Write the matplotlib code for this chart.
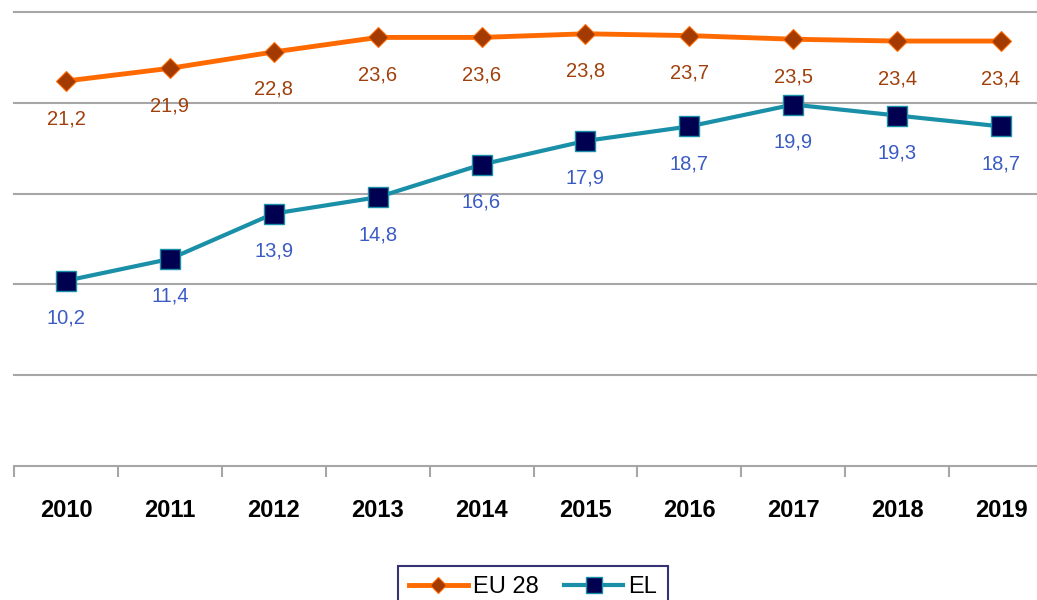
import numpy as np
import matplotlib
matplotlib.use("Agg")
import matplotlib.pyplot as plt

years = ["2010", "2011", "2012", "2013", "2014", "2015", "2016", "2017", "2018", "2019"]
eu28 = [21.2, 21.9, 22.8, 23.6, 23.6, 23.8, 23.7, 23.5, 23.4, 23.4]
el = [10.2, 11.4, 13.9, 14.8, 16.6, 17.9, 18.7, 19.9, 19.3, 18.7]

orange = "#FF6A00"
brown = "#A33A00"
teal = "#1A90A8"
navy = "#000050"
label_eu = "#A0400C"
label_el = "#3B5BC4"
grid_c = "#A6A6A6"

plt.rcParams['font.family'] = ['Liberation Sans', 'DejaVu Sans']

fig = plt.figure(figsize=(10.37, 6.0), dpi=100)
# plot area runs a little past the right edge of the picture
ax = fig.add_axes([14 / 1037, 1 - 466 / 600, 1039 / 1037, (466 - 12) / 600])

x = np.arange(len(years))
ax.set_xlim(-0.5, len(years) - 0.5)
ax.set_ylim(0, 25)

for g in [5, 10, 15, 20, 25]:
    ax.axhline(g, color=grid_c, lw=1.5, zorder=0, clip_on=False)

ax.plot(x, eu28, color=orange, lw=3.5, marker="D", markersize=10.5,
        markerfacecolor=brown, markeredgecolor=orange, markeredgewidth=0.8,
        label="EU 28", zorder=3)
ax.plot(x, el, color=teal, lw=3, marker="s", markersize=14,
        markerfacecolor=navy, markeredgecolor=teal, markeredgewidth=1,
        label="EL", zorder=3)

for xi, v in zip(x, eu28):
    ax.annotate(f"{v:.1f}".replace(".", ","), (xi, v), xytext=(0, -27),
                textcoords="offset points", ha="center", va="center",
                fontsize=14.5, color=label_eu)
for xi, v in zip(x, el):
    ax.annotate(f"{v:.1f}".replace(".", ","), (xi, v), xytext=(0, -27),
                textcoords="offset points", ha="center", va="center",
                fontsize=14.5, color=label_el)

for s in ["top", "right", "left"]:
    ax.spines[s].set_visible(False)
ax.spines["bottom"].set_color(grid_c)
ax.spines["bottom"].set_linewidth(1.5)

ax.set_yticks([])
ax.set_xticks(x)
ax.set_xticklabels(years, fontsize=17, fontweight="bold")
ax.tick_params(axis="x", length=0, pad=24)
ax.set_xticks(np.arange(-0.5, len(years)), minor=True)
ax.tick_params(axis="x", which="minor", length=8, width=1.5, color=grid_c)

leg = fig.legend(loc="upper center", bbox_to_anchor=(0.514, 0.077), ncol=2,
                 fontsize=17, frameon=True, fancybox=False, handlelength=2.5,
                 columnspacing=1.1, handletextpad=0.2, borderpad=0.45,
                 markerscale=0.8)
leg.get_frame().set_edgecolor(navy)
leg.get_frame().set_linewidth(1.5)

plt.savefig("out.png", dpi=100)
